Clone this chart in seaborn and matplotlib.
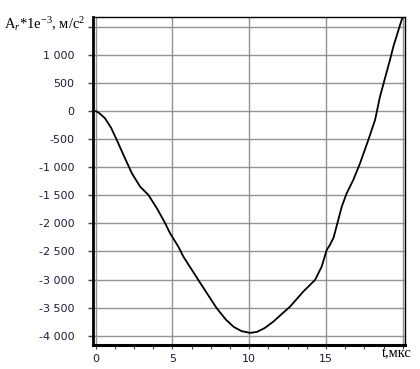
import matplotlib
matplotlib.use("Agg")
import matplotlib.pyplot as plt
import seaborn as sns
import numpy as np
import pandas as pd
from matplotlib.ticker import FixedLocator, FuncFormatter, MultipleLocator

# ---- data ----
t_us = [0.0, 0.24, 0.6, 1.0, 1.37, 1.8, 2.35, 2.89, 3.43, 4.0, 4.52, 4.84,
        5.38, 5.71, 6.68, 7.88, 8.5, 9.0, 9.5, 10.05, 10.5, 11.0, 11.57, 12.66,
        13.52, 14.29, 14.72, 15.05, 15.26, 15.5, 16.03, 16.35, 16.78, 17.22,
        17.76, 18.2, 18.52, 19.17, 19.39, 19.93, 20.0]
accel = [0, -41, -130, -300, -516, -780, -1108, -1347, -1495, -1740, -1998, -2176,
         -2415, -2593, -3007, -3511, -3720, -3845, -3918, -3950, -3932, -3865, -3749, -3482,
         -3215, -3007, -2770, -2473, -2384, -2250, -1703, -1465, -1228, -931,
         -516, -160, 255, 907, 1144, 1619, 1660]

y_ticks = [-4000, -3500, -3000, -2500, -2000, -1500, -1000, -500, 0, 500, 1000, 1500]
x_ticks = [0, 5, 10, 15, 20]
x_tick_labels = ["0", "5", "10", "15", ""]
y_label = "A$_r$*1e$^{-3}$, м/с$^2$"
x_label = "t,мкс"

df = pd.DataFrame({"t": t_us, "a": accel})

sns.set_style("white")
plt.rcParams["mathtext.fontset"] = "custom"
plt.rcParams["mathtext.rm"] = "Liberation Serif"
plt.rcParams["mathtext.it"] = "Liberation Serif:italic"
plt.rcParams["font.family"] = ["DejaVu Sans"]

fig = plt.figure(figsize=(4.2, 3.69), dpi=100)
ax = fig.add_axes([93 / 420, 1 - 344.7 / 369, (405 - 93) / 420, (344.7 - 17) / 369])

sns.lineplot(data=df, x="t", y="a", ax=ax, color="black", lw=1.3, zorder=3)

ax.set_xlim(-0.18, 20.15)
ax.set_ylim(-4160, 1672)

ax.xaxis.set_major_locator(FixedLocator(x_ticks))
ax.set_xticklabels(x_tick_labels)
ax.xaxis.set_minor_locator(MultipleLocator(1.25))
ax.yaxis.set_major_locator(FixedLocator(y_ticks))

def fmt(v, pos):
    if v > 1000:
        return ""
    return f"{int(round(v)):,}".replace(",", " ")

ax.yaxis.set_major_formatter(FuncFormatter(fmt))

ax.grid(True, which="major", color="#939393", lw=1.0)
ax.set_axisbelow(True)

lab_color = "#1c1c3c"
ax.tick_params(axis="y", which="major", direction="out", length=3.5, width=1.0,
               color="#5a3a5a", labelsize=8, labelcolor=lab_color, pad=10, left=True)
ax.tick_params(axis="x", which="both", direction="out", length=3, width=0.8,
               color="#404040", labelsize=8, labelcolor=lab_color, pad=4, bottom=True)

for side, lw in (("left", 2.0), ("bottom", 2.2), ("top", 1.0), ("right", 1.0)):
    ax.spines[side].set_visible(True)
    ax.spines[side].set_color("black")
    ax.spines[side].set_linewidth(lw)

ax.set_xlabel("")
ax.set_ylabel("")

fig.text(4 / 420, 1 - 24 / 369, y_label, fontsize=10.5, family="Liberation Serif",
         ha="left", va="center", color="black")
fig.text(397 / 420, 1 - 354 / 369, x_label, fontsize=10.5, family="Liberation Serif",
         ha="center", va="center", color="black")

fig.savefig("out.png", dpi=100)
